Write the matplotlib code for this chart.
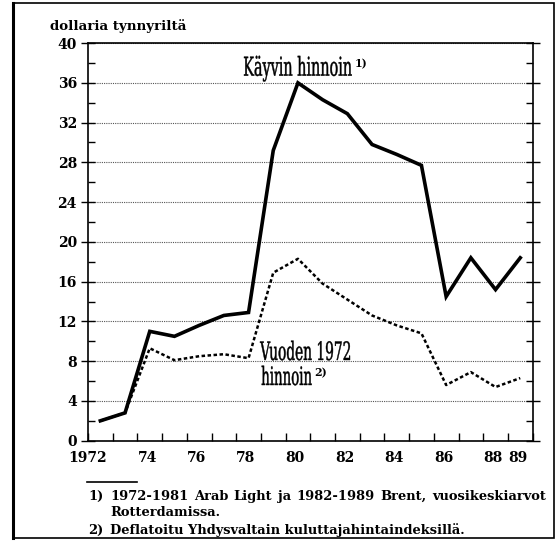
import matplotlib
matplotlib.use("Agg")
import matplotlib.pyplot as plt
import matplotlib.patches as patches
import matplotlib.ticker as ticker
from matplotlib.textpath import TextPath
from matplotlib.font_manager import FontProperties
from matplotlib.transforms import Affine2D

# data (USD per barrel, plotted at mid-year)
years = list(range(1972, 1990))
current_prices = [2.0, 2.8, 11.0, 10.5, 11.6, 12.6, 12.9, 29.2, 36.0,
                  34.3, 32.9, 29.8, 28.8, 27.7, 14.5, 18.4, 15.2, 18.4]
prices_1972 = [2.0, 2.8, 9.3, 8.1, 8.5, 8.7, 8.3, 16.9, 18.3,
               15.8, 14.2, 12.6, 11.6, 10.8, 5.6, 6.9, 5.4, 6.3]
xtick_years = [1972, 1974, 1976, 1978, 1980, 1982, 1984, 1986, 1988, 1989]
xtick_labels = ["1972", "74", "76", "78", "80", "82", "84", "86", "88", "89"]
yticks = [0, 4, 8, 12, 16, 20, 24, 28, 32, 36, 40]

W, H = 558.0, 541.0
serif_bold = dict(family="DejaVu Serif", weight="bold")


def cond_text(fig, s, x0, x1, base_y, cap_h):
    """Draws a horizontally squeezed serif text between pixels x0 and x1."""
    prop = FontProperties(family="DejaVu Serif")
    tp = TextPath((0, 0), s, size=1, prop=prop)
    cap = TextPath((0, 0), "H", size=1, prop=prop).get_extents().height
    bb = tp.get_extents()
    sx = (x1 - x0) / bb.width
    sy = cap_h / cap
    tr = Affine2D().translate(-bb.x0, 0).scale(sx, sy).translate(x0, H - base_y)
    fig.add_artist(patches.PathPatch(tp, transform=tr, facecolor="black",
                                     edgecolor="black", lw=0.3))


def justify(fig, words, x0, x1, base_y, size):
    texts = [fig.text(0, 1 - base_y / H, w, fontsize=size, ha="left",
                      va="baseline", **serif_bold) for w in words]
    r = fig.canvas.get_renderer()
    widths = [t.get_window_extent(r).width for t in texts]
    gap = (x1 - x0 - sum(widths)) / (len(words) - 1)
    x = x0
    for t, w in zip(texts, widths):
        t.set_x(x / W)
        x += w + gap


def main():
    fig = plt.figure(figsize=(5.58, 5.41), dpi=100)
    ax = fig.add_axes([88 / W, 1 - 440.7 / H, 444.6 / W, 397.6 / H])

    xs = [y + 0.5 for y in years]
    ax.plot(xs, current_prices, color="black", lw=2.6,
            solid_joinstyle="miter", zorder=3)
    ax.plot(xs, prices_1972, color="black", lw=1.8,
            linestyle=(0, (1.4, 1.0)), zorder=3)

    ax.set_xlim(1972, 1990)
    ax.set_ylim(0, 40)

    # y axis
    ax.set_yticks(yticks)
    ax.yaxis.set_minor_locator(ticker.MultipleLocator(2))
    ax.tick_params(axis="y", which="major", direction="inout", length=10,
                   width=1.0, labelsize=10, pad=3, right=True)
    ax.tick_params(axis="y", which="minor", direction="in", length=5,
                   width=1.0, right=True)
    for lab in ax.get_yticklabels():
        lab.set_fontfamily("DejaVu Serif")
        lab.set_fontweight("bold")

    # x axis: ticks every year, labels placed by hand
    ax.set_xticks(range(1972, 1991))
    ax.set_xticklabels([])
    ax.tick_params(axis="x", which="major", direction="in", length=6,
                   width=1.0)
    for yr, lab in zip(xtick_years, xtick_labels):
        ha = "center" if yr == 1972 else "left"
        ax.text(yr, -1.0, lab, ha=ha, va="top", fontsize=10,
                clip_on=False, **serif_bold)

    ax.yaxis.grid(True, which="major", linestyle=(0, (1, 1)),
                  color="#555555", lw=0.8)
    for s in ax.spines.values():
        s.set_linewidth(1.2)

    # series labels
    cond_text(fig, "Käyvin hinnoin", 244, 351.7, 75.7, 19)
    fig.text(355 / W, 1 - 67 / H, "1)", fontsize=8, ha="left",
             va="baseline", **serif_bold)
    cond_text(fig, "Vuoden 1972", 260, 350, 360, 18.5)
    cond_text(fig, "hinnoin", 261.7, 311.7, 385, 18.5)
    fig.text(314 / W, 1 - 376 / H, "2)", fontsize=8, ha="left",
             va="baseline", **serif_bold)

    # unit label
    fig.text(50 / W, 1 - 26 / H, "dollaria tynnyriltä", fontsize=9.6,
             ha="left", va="center", **serif_bold)

    # footnotes
    fs = 9.4
    fig.add_artist(plt.Line2D([87 / W, 137 / W], [1 - 482 / H, 1 - 482 / H],
                              color="black", lw=1.2))
    fig.text(88 / W, 1 - 500 / H, "1)", fontsize=fs,
             ha="left", va="baseline", **serif_bold)
    justify(fig, ["1972-1981", "Arab", "Light", "ja", "1982-1989",
                  "Brent,", "vuosikeskiarvot"], 110, 546, 500, fs)
    fig.text(110 / W, 1 - 516 / H, "Rotterdamissa.", fontsize=fs,
             ha="left", va="baseline", **serif_bold)
    fig.text(88 / W, 1 - 534 / H, "2)", fontsize=fs,
             ha="left", va="baseline", **serif_bold)
    fig.text(110 / W, 1 - 534 / H,
             "Deflatoitu Yhdysvaltain kuluttajahintaindeksillä.",
             fontsize=fs, ha="left", va="baseline", **serif_bold)

    # outer frame
    fig.add_artist(patches.Rectangle((13 / W, 3 / H), 541 / W, 535 / H,
                                     transform=fig.transFigure, fill=False,
                                     edgecolor="black", lw=1.2))
    fig.add_artist(plt.Line2D([13 / W, 13 / W], [3 / H, 538 / H],
                              color="black", lw=2.2))

    fig.savefig("out.png", dpi=100)


if __name__ == "__main__":
    main()
